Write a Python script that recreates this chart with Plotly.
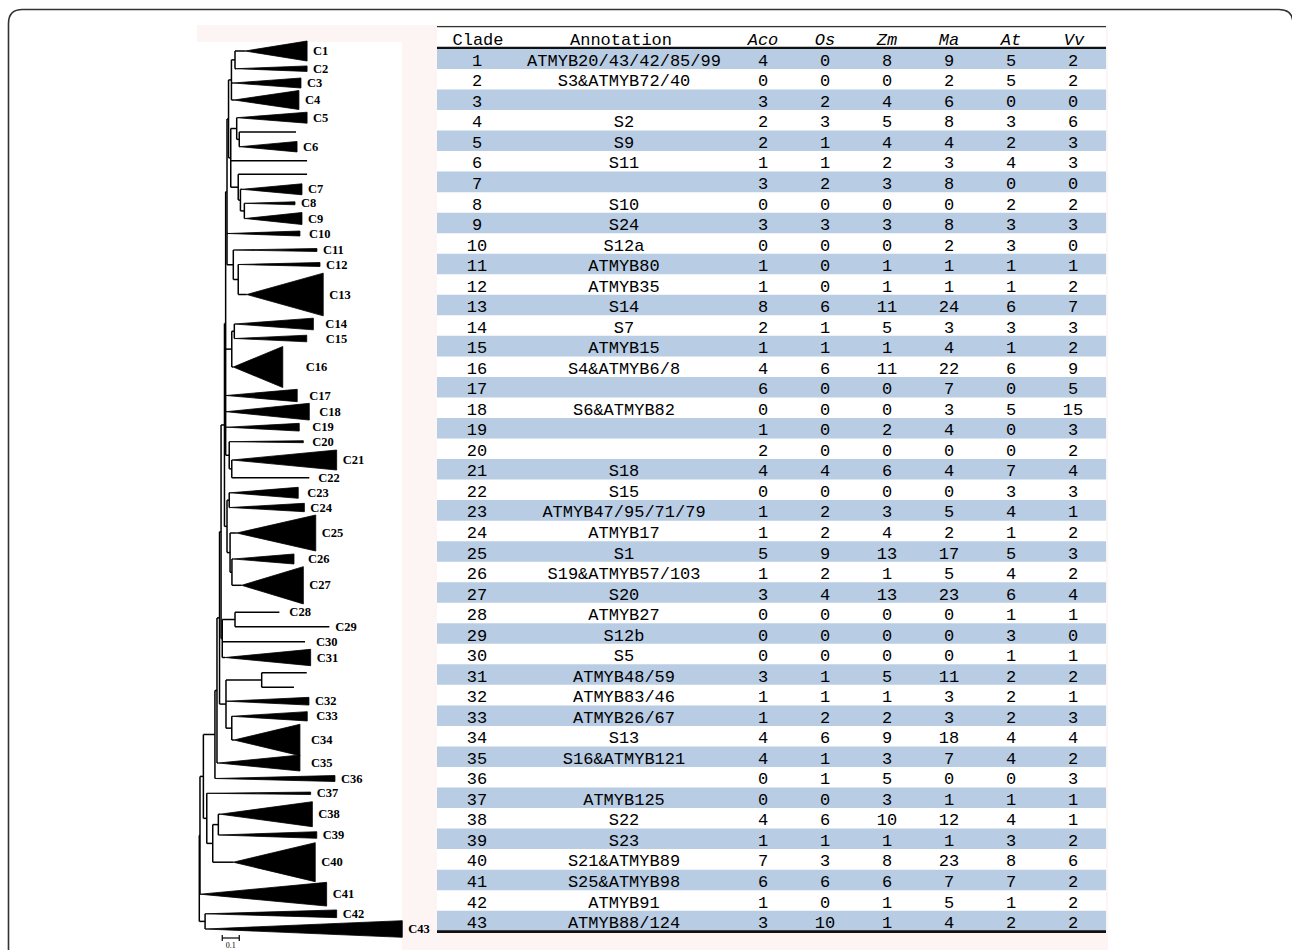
import plotly.graph_objects as go

W, H = 1292, 950

# ---------------- table: MYB clade membership per species ----------------
CLADE_NO = list(range(1, 44))
ANNOTATION = [
    "ATMYB20/43/42/85/99", "S3&ATMYB72/40", "", "S2", "S9", "S11", "", "S10", "S24", "S12a",
    "ATMYB80", "ATMYB35", "S14", "S7", "ATMYB15", "S4&ATMYB6/8", "", "S6&ATMYB82", "", "",
    "S18", "S15", "ATMYB47/95/71/79", "ATMYB17", "S1", "S19&ATMYB57/103", "S20", "ATMYB27",
    "S12b", "S5", "ATMYB48/59", "ATMYB83/46", "ATMYB26/67", "S13", "S16&ATMYB121", "",
    "ATMYB125", "S22", "S23", "S21&ATMYB89", "S25&ATMYB98", "ATMYB91", "ATMYB88/124",
]
SPECIES = ["Aco", "Os", "Zm", "Ma", "At", "Vv"]
ACO = [4, 0, 3, 2, 2, 1, 3, 0, 3, 0, 1, 1, 8, 2, 1, 4, 6, 0, 1, 2, 4, 0,
       1, 1, 5, 1, 3, 0, 0, 0, 3, 1, 1, 4, 4, 0, 0, 4, 1, 7, 6, 1, 3]
OS = [0, 0, 2, 3, 1, 1, 2, 0, 3, 0, 0, 0, 6, 1, 1, 6, 0, 0, 0, 0, 4, 0,
      2, 2, 9, 2, 4, 0, 0, 0, 1, 1, 2, 6, 1, 1, 0, 6, 1, 3, 6, 0, 10]
ZM = [8, 0, 4, 5, 4, 2, 3, 0, 3, 0, 1, 1, 11, 5, 1, 11, 0, 0, 2, 0, 6, 0,
      3, 4, 13, 1, 13, 0, 0, 0, 5, 1, 2, 9, 3, 5, 3, 10, 1, 8, 6, 1, 1]
MA = [9, 2, 6, 8, 4, 3, 8, 0, 8, 2, 1, 1, 24, 3, 4, 22, 7, 3, 4, 0, 4, 0,
      5, 2, 17, 5, 23, 0, 0, 0, 11, 3, 3, 18, 7, 0, 1, 12, 1, 23, 7, 5, 4]
AT = [5, 5, 0, 3, 2, 4, 0, 2, 3, 3, 1, 1, 6, 3, 1, 6, 0, 5, 0, 0, 7, 3,
      4, 1, 5, 4, 6, 1, 3, 1, 2, 2, 2, 4, 4, 0, 1, 4, 3, 8, 7, 1, 2]
VV = [2, 2, 0, 6, 3, 3, 0, 2, 3, 0, 1, 2, 7, 3, 2, 9, 5, 15, 3, 2, 4, 3,
      1, 2, 3, 2, 4, 1, 0, 1, 2, 1, 3, 4, 2, 3, 1, 1, 2, 6, 2, 2, 2]
COUNTS = [ACO, OS, ZM, MA, AT, VV]

# ---------------- tree: collapsed clades (depths in substitutions/site) ----------------
LEAF_ID = ["C1", "C2", "C3", "C4", "C5", "u1", "C6", "u2", "u3", "C7", "C8", "C9",
           "C10", "C11", "C12", "C13", "C14", "C15", "C16", "C17", "C18", "C19",
           "C20", "C21", "C22", "C23", "C24", "C25", "C26", "C27", "C28", "C29",
           "C30", "C31", "u4", "u5", "C32", "C33", "C34", "C35", "C36", "C37",
           "C38", "C39", "C40", "C41", "C42", "C43"]
LEAF_BASE = [0.269, 0.216, 0.198, 0.204, 0.222, 0.569, 0.239, 0.634, 0.634, 0.251, 0.265, 0.269,
             0.169, 0.200, 0.229, 0.279, 0.206, 0.210, 0.200, 0.157, 0.157, 0.161,
             0.176, 0.191, 0.647, 0.181, 0.181, 0.220, 0.200, 0.249, 0.471, 0.765,
             0.622, 0.151, 0.632, 0.557, 0.157, 0.191, 0.204, 0.112, 0.092, 0.044,
             0.122, 0.112, 0.200, 0.004, 0.034, 0.034]
LEAF_TIP = [0.634, 0.634, 0.598, 0.586, 0.634, 0.569, 0.575, 0.634, 0.634, 0.604, 0.563, 0.604,
            0.592, 0.692, 0.710, 0.729, 0.671, 0.632, 0.491, 0.576, 0.647, 0.588,
            0.612, 0.808, 0.647, 0.582, 0.618, 0.685, 0.557, 0.612, 0.471, 0.765,
            0.622, 0.655, 0.632, 0.557, 0.645, 0.635, 0.592, 0.592, 0.798, 0.655,
            0.665, 0.691, 0.682, 0.749, 0.808, 1.194]
# vertical slot of each leaf and the spread of its collapsed members
LEAF_Y = [51, 68.7, 83, 100, 117.7, 132, 146.7, 160.7, 174.3, 189.3, 203.3, 218.5,
          233.5, 250, 264.5, 294.5, 324, 338.5, 367, 395.5, 411.7, 427.2,
          441.7, 460, 477.7, 492.8, 507.5, 533, 559, 585.3, 612.3, 626.7,
          641.7, 657.5, 672.7, 687.3, 701.2, 716.3, 740, 763, 778.5, 793.3,
          814.2, 835, 862.2, 894.2, 913.8, 929]
LEAF_SPREAD = [20, 5.5, 10, 19, 11, 0, 10.5, 0, 0, 11, 3, 12,
               5, 3, 4, 42.7, 11.7, 6.6, 41, 12.4, 16.7, 7.7,
               2, 20, 0, 11, 8.4, 36, 10, 37.3, 0, 0,
               0, 16.4, 0, 0, 7.7, 9.3, 31.4, 16, 6, 2.5,
               25, 6.6, 39, 23.7, 7.7, 16.6]

NODE_ID = ["root", "nI", "n4243", "nH", "nE3", "nX", "nY", "nP3", "nP2", "nP1",
           "nA6", "nA5", "nA1", "n12", "nA4", "nA2", "nu1C6", "nA3", "n7", "n89",
           "nB1", "n1213", "nB2", "n1415", "nD2", "n2122", "nD5", "n2324", "nD4",
           "n2627", "nF1", "n2829", "nE1", "nu45", "n3334", "nG3", "nG2", "nG1"]
NODE_DEPTH = [0.000, 0.004, 0.034, 0.024, 0.092, 0.104, 0.119, 0.128, 0.148, 0.155,
              0.163, 0.172, 0.189, 0.210, 0.185, 0.220, 0.235, 0.229, 0.242, 0.265,
              0.200, 0.229, 0.191, 0.206, 0.176, 0.191, 0.163, 0.176, 0.181,
              0.192, 0.135, 0.210, 0.157, 0.367, 0.191, 0.044, 0.079, 0.112]
NODE_CHILDREN = [
    ["nI", "n4243"], ["nH", "C41"], ["C42", "C43"], ["nE3", "nG3"], ["nX", "C36"],
    ["nY", "C35"], ["nP3", "nE1"], ["nP2", "nF1"], ["nP1", "nD5"],
    ["nA6", "nB2", "C17", "C18", "C19", "nD2"],
    ["nA5", "C10", "nB1"], ["nA1", "nA4"], ["n12", "C3", "C4"], ["C1", "C2"],
    ["nA2", "u2", "nA3"], ["C5", "nu1C6"], ["u1", "C6"], ["u3", "n7"], ["C7", "n89"],
    ["C8", "C9"], ["C11", "n1213"], ["C12", "C13"], ["n1415", "C16"], ["C14", "C15"],
    ["C20", "n2122"], ["C21", "C22"], ["n2324", "nD4"], ["C23", "C24"],
    ["C25", "n2627"], ["C26", "C27"], ["n2829", "C30", "C31"], ["C28", "C29"],
    ["nu45", "C32", "n3334"], ["u4", "u5"], ["C33", "C34"], ["C37", "nG2"],
    ["nG1", "C40"], ["C38", "C39"],
]
SCALE_BAR = 0.1

# ---------------- geometry helpers ----------------
PX_PER_UNIT = 170.0          # horizontal scale of the tree panel
TREE_ORIGIN_PX = 199.3       # where depth 0 sits on the page
ROW_PX0, ROW_PX = 58.7, 20.53  # page position of row 1 and row pitch
TEXT_DROP = 0.14             # baseline nudge of table text within its row

leaf = {n: dict(base=b, tip=t, y=y, spread=s)
        for n, b, t, y, s in zip(LEAF_ID, LEAF_BASE, LEAF_TIP, LEAF_Y, LEAF_SPREAD)}
node = {n: dict(depth=d, children=c) for n, d, c in zip(NODE_ID, NODE_DEPTH, NODE_CHILDREN)}


def y_of(name):
    if name in leaf:
        return leaf[name]["y"]
    ch = node[name]["children"]
    return (y_of(ch[0]) + y_of(ch[-1])) / 2.0


def start_of(name):
    if name in leaf:
        lf = leaf[name]
        return lf["base"] if lf["spread"] > 0 else lf["tip"]
    return node[name]["depth"]


lx, ly = [], []
for nid in NODE_ID:
    d = node[nid]["depth"]
    ch = node[nid]["children"]
    lx += [d, d, None]
    ly += [y_of(ch[0]), y_of(ch[-1]), None]
    for c in ch:
        s = start_of(c)
        if s > d:
            lx += [d, s, None]
            ly += [y_of(c), y_of(c), None]

tx, ty = [], []
for n in LEAF_ID:
    lf = leaf[n]
    if lf["spread"] > 0:
        tx += [lf["base"], lf["tip"], lf["tip"], lf["base"], None]
        ty += [lf["y"], lf["y"] - lf["spread"] / 2, lf["y"] + lf["spread"] / 2, lf["y"], None]

label_gap_px = {"C14": 12, "C15": 19, "C16": 23, "C17": 12, "C19": 13, "C26": 14,
                "C30": 11, "C34": 11, "C35": 11, "C10": 9, "C20": 9, "C22": 9,
                "C23": 9, "C28": 10, "C18": 10, "C33": 9}
lab_names = [n for n in LEAF_ID if n.startswith("C")]
lab_x = [leaf[n]["tip"] + label_gap_px.get(n, 6) / PX_PER_UNIT for n in lab_names]
lab_y = [leaf[n]["y"] + 1 for n in lab_names]

fig = go.Figure()

fig.add_trace(go.Scatter(x=tx, y=ty, mode="lines", fill="toself", fillcolor="#000000",
                         line=dict(color="#000000", width=0.8), xaxis="x2", yaxis="y2",
                         hoverinfo="skip", showlegend=False))
fig.add_trace(go.Scatter(x=lx, y=ly, mode="lines", line=dict(color="#000000", width=1.5),
                         xaxis="x2", yaxis="y2", hoverinfo="skip", showlegend=False))
fig.add_trace(go.Scatter(x=lab_x, y=lab_y, text=lab_names, mode="text",
                         textposition="middle right",
                         textfont=dict(family="Liberation Serif", size=12.5, color="#000000",
                                       weight="bold"),
                         xaxis="x2", yaxis="y2", hoverinfo="skip", showlegend=False))

# scale bar
sb0 = 0.135
sb_y = 938
fig.add_trace(go.Scatter(x=[sb0, sb0 + SCALE_BAR, None, sb0, sb0, None, sb0 + SCALE_BAR, sb0 + SCALE_BAR],
                         y=[sb_y, sb_y, None, sb_y - 3, sb_y + 3, None, sb_y - 3, sb_y + 3],
                         mode="lines", line=dict(color="#000000", width=1.2),
                         xaxis="x2", yaxis="y2", hoverinfo="skip", showlegend=False))
fig.add_trace(go.Scatter(x=[sb0 + SCALE_BAR / 2], y=[945.5], text=[str(SCALE_BAR)], mode="text",
                         textposition="middle center",
                         textfont=dict(family="Liberation Serif", size=8, color="#000000"),
                         xaxis="x2", yaxis="y2", hoverinfo="skip", showlegend=False))

# ---------------- table ----------------
TABLE_X0, TABLE_X1 = 437, 1106
COL_X = [477, 624, 763, 825, 887, 949, 1011, 1073]
HEAD_X = [478, 621, 763, 825, 887, 949, 1011, 1074]
mono = "Liberation Mono"
ink = "#000000"

fig.add_trace(go.Scatter(x=HEAD_X[:2], y=[TEXT_DROP] * 2, text=["Clade", "Annotation"], mode="text",
                         textfont=dict(family=mono, size=17, color=ink),
                         hoverinfo="skip", showlegend=False))
fig.add_trace(go.Scatter(x=HEAD_X[2:], y=[TEXT_DROP] * 6, text=SPECIES, mode="text",
                         textfont=dict(family=mono, size=17, color=ink, style="italic"),
                         hoverinfo="skip", showlegend=False))

columns = [[str(c) for c in CLADE_NO], ANNOTATION] + [[str(v) for v in col] for col in COUNTS]
row_y = [r + TEXT_DROP for r in CLADE_NO]
for cx, vals in zip(COL_X, columns):
    fig.add_trace(go.Scatter(x=[cx] * len(vals), y=row_y, text=vals, mode="text",
                             textfont=dict(family=mono, size=17, color=ink),
                             hoverinfo="skip", showlegend=False))

shapes = []
# backdrop, tree panel, table body
shapes.append(dict(type="rect", xref="x", yref="y2", x0=197, x1=1108, y0=25, y1=H + 5,
                   fillcolor="#fcf5f3", line=dict(width=0), layer="below"))
shapes.append(dict(type="rect", xref="x", yref="y2", x0=197, x1=402, y0=42, y1=H + 5,
                   fillcolor="#ffffff", line=dict(width=0), layer="below"))
shapes.append(dict(type="rect", xref="x", yref="y", x0=TABLE_X0, x1=TABLE_X1, y0=-0.55, y1=43.5,
                   fillcolor="#ffffff", line=dict(width=0), layer="below"))
for r in CLADE_NO:
    if r % 2 == 1:
        shapes.append(dict(type="rect", xref="x", yref="y", x0=TABLE_X0, x1=TABLE_X1,
                           y0=r - 0.5, y1=r + 0.5, fillcolor="#b8cce4",
                           line=dict(width=0), layer="below"))
# table rules
shapes.append(dict(type="line", xref="x", yref="y", x0=TABLE_X0, x1=TABLE_X1, y0=-0.56, y1=-0.56,
                   line=dict(color="#333333", width=1.2)))
shapes.append(dict(type="line", xref="x", yref="y", x0=TABLE_X0, x1=TABLE_X1, y0=0.47, y1=0.47,
                   line=dict(color="#111111", width=2.2)))
shapes.append(dict(type="line", xref="x", yref="y", x0=TABLE_X0, x1=TABLE_X1, y0=43.52, y1=43.52,
                   line=dict(color="#111111", width=2.6)))
# rounded frame
shapes.append(dict(type="path", xref="x", yref="y2",
                   path="M 8.5 960 L 8.5 23.5 Q 8.5 9.5 22.5 9.5 L 1279 9.5 Q 1293 9.5 1293 23.5 L 1293 960",
                   line=dict(color="#333333", width=1.6)))

row_top = 1 - ROW_PX0 / ROW_PX
row_bot = 1 + (H - ROW_PX0) / ROW_PX
ax_off = dict(visible=False, showgrid=False, zeroline=False, fixedrange=True)

fig.update_layout(
    width=W, height=H, autosize=False,
    margin=dict(l=0, r=0, t=0, b=0, pad=0),
    paper_bgcolor="#ffffff", plot_bgcolor="#ffffff",
    showlegend=False,
    shapes=shapes,
    xaxis=dict(range=[0, W], domain=[0, 1], **ax_off),
    yaxis=dict(range=[row_bot, row_top], domain=[0, 1], **ax_off),
    xaxis2=dict(range=[-TREE_ORIGIN_PX / PX_PER_UNIT, (W - TREE_ORIGIN_PX) / PX_PER_UNIT],
                overlaying="x", **ax_off),
    yaxis2=dict(range=[H, 0], overlaying="y", **ax_off),
)

fig.write_html("out.html")
